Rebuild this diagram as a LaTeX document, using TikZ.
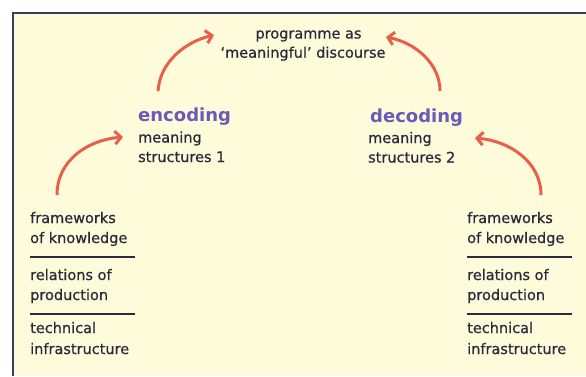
\documentclass[tikz,border=0pt]{standalone}
\usepackage{fontspec}
\setmainfont{DejaVu Sans}
\newfontfamily\bodyfont{DejaVu Sans}[FakeBold=0.7,Ligatures=TeX]
\usetikzlibrary{arrows.meta}
\definecolor{cream}{HTML}{FDFBDA}
\definecolor{framec}{HTML}{3C3C5C}
\definecolor{ink}{HTML}{2A2A3C}
\definecolor{purp}{HTML}{6C5AB8}
\definecolor{arrowc}{HTML}{E8604C}
\begin{document}
\begin{tikzpicture}[x=1pt,y=-1pt,
  txt/.style={anchor=base west, inner sep=0pt, font=\bodyfont\fontsize{14.5}{17}\selectfont, text=ink},
  ctxt/.style={txt, anchor=base},
  head/.style={anchor=base west, inner sep=0pt, font=\fontsize{18}{20}\selectfont\bfseries, text=purp},
  sep/.style={draw=ink, line width=1.5pt},
  flow/.style={draw=arrowc, line width=3pt, -{Straight Barb[length=6pt,width=13pt]}}]
\useasboundingbox (0,0) rectangle (586,376);
\fill[cream] (13,13) rectangle (586,376);
\draw[framec, line width=2pt] (13,376) -- (13,13) -- (586,13);
% top
\node[ctxt] (prog1) at (308.5,38.5) {programme as};
\node[ctxt] (prog2) at (303,57.7) {`meaningful' discourse};
% encoding
\node[head] (enc) at (138,121.5) {encoding};
\node[txt] (enc1) at (138,142.5) {meaning};
\node[txt] (enc2) at (138,162) {structures 1};
% decoding
\node[head] (dec) at (370,122) {decoding};
\node[txt] (dec1) at (368,143) {meaning};
\node[txt] (dec2) at (368,162.5) {structures 2};
% left stack
\node[txt] (lf1) at (30,223) {frameworks};
\node[txt] (lf2) at (30,243) {of knowledge};
\node[txt] (lr1) at (30,280) {relations of};
\node[txt] (lr2) at (30,300) {production};
\node[txt] (lt1) at (30,333) {technical};
\node[txt] (lt2) at (30,354) {infrastructure};
\coordinate (ls1a) at (30,257); \coordinate (ls1b) at (135,257);
\coordinate (ls2a) at (30,314); \coordinate (ls2b) at (135,314);
\draw[sep] (ls1a) -- (ls1b);
\draw[sep] (ls2a) -- (ls2b);
% right stack
\node[txt] (rf1) at (467,223) {frameworks};
\node[txt] (rf2) at (467,243) {of knowledge};
\node[txt] (rr1) at (467,280) {relations of};
\node[txt] (rr2) at (467,300) {production};
\node[txt] (rt1) at (467,333) {technical};
\node[txt] (rt2) at (467,354) {infrastructure};
\coordinate (rs1a) at (467,257); \coordinate (rs1b) at (572,257);
\coordinate (rs2a) at (467,314); \coordinate (rs2b) at (572,314);
\draw[sep] (rs1a) -- (rs1b);
\draw[sep] (rs2a) -- (rs2b);
% arrow ends
\coordinate (a1s) at (57,195);  \coordinate (a1e) at (123,137);
\coordinate (a2s) at (158,91);  \coordinate (a2e) at (214,35);
\coordinate (a3s) at (440,91);  \coordinate (a3e) at (386,37);
\coordinate (a4s) at (541,195); \coordinate (a4e) at (475,138);
\draw[flow] (a1s) .. controls (57,160) and (88,140) .. (a1e);
\draw[flow] (a2s) .. controls (160,62) and (185,42) .. (a2e);
\draw[flow] (a3s) .. controls (440,64) and (416,43) .. (a3e);
\draw[flow] (a4s) .. controls (541,162) and (510,141) .. (a4e);
\end{tikzpicture}
\end{document}
